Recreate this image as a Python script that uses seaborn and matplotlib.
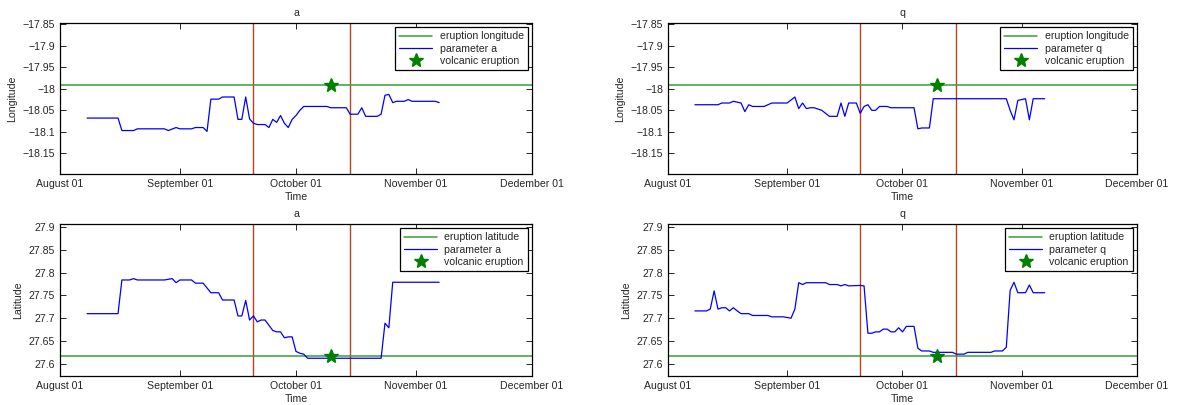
import matplotlib
matplotlib.use("Agg")
import matplotlib.pyplot as plt
import numpy as np
import pandas as pd
import seaborn as sns

# Reference markers for the El Hierro 2011 eruption
eruption_date = "2011-10-10"
eruption_lon = -17.992
eruption_lat = 27.618
window_start = "2011-09-20"
window_end = "2011-10-15"

# Parameter a, longitude estimate
a_lon_dates = ["2011-08-08", "2011-08-16", "2011-08-17", "2011-08-20", "2011-08-21", "2011-08-28",
               "2011-08-29", "2011-08-31", "2011-09-01", "2011-09-04", "2011-09-05", "2011-09-07",
               "2011-09-08", "2011-09-09", "2011-09-11", "2011-09-12", "2011-09-15", "2011-09-16",
               "2011-09-17", "2011-09-18", "2011-09-19", "2011-09-20", "2011-09-21", "2011-09-23",
               "2011-09-24", "2011-09-25", "2011-09-26", "2011-09-27", "2011-09-28", "2011-09-29",
               "2011-09-30", "2011-10-01", "2011-10-02", "2011-10-03", "2011-10-09", "2011-10-10",
               "2011-10-14", "2011-10-15", "2011-10-17", "2011-10-18", "2011-10-19", "2011-10-22",
               "2011-10-23", "2011-10-24", "2011-10-25", "2011-10-26", "2011-10-27", "2011-10-29",
               "2011-10-30", "2011-10-31", "2011-11-06", "2011-11-07"]
a_lon_values = [-18.068, -18.068, -18.097, -18.097, -18.093, -18.093,
                -18.097, -18.090, -18.093, -18.093, -18.090, -18.090,
                -18.099, -18.024, -18.024, -18.019, -18.019, -18.071,
                -18.071, -18.019, -18.070, -18.080, -18.083, -18.083,
                -18.090, -18.071, -18.078, -18.062, -18.080, -18.090,
                -18.071, -18.062, -18.050, -18.041, -18.041, -18.044,
                -18.044, -18.059, -18.059, -18.044, -18.064, -18.064,
                -18.059, -18.015, -18.013, -18.032, -18.029, -18.029,
                -18.025, -18.029, -18.029, -18.032]

# Parameter q, longitude estimate
q_lon_dates = ["2011-08-08", "2011-08-14", "2011-08-15", "2011-08-17", "2011-08-18", "2011-08-20",
               "2011-08-21", "2011-08-22", "2011-08-23", "2011-08-26", "2011-08-27", "2011-08-28",
               "2011-09-01", "2011-09-03", "2011-09-04", "2011-09-05", "2011-09-06", "2011-09-07",
               "2011-09-08", "2011-09-10", "2011-09-12", "2011-09-14", "2011-09-15", "2011-09-16",
               "2011-09-17", "2011-09-19", "2011-09-20", "2011-09-21", "2011-09-22", "2011-09-23",
               "2011-09-24", "2011-09-25", "2011-09-27", "2011-09-28", "2011-10-04", "2011-10-05",
               "2011-10-06", "2011-10-08", "2011-10-09", "2011-10-28", "2011-10-29", "2011-10-30",
               "2011-10-31", "2011-11-02", "2011-11-03", "2011-11-04", "2011-11-07"]
q_lon_values = [-18.037, -18.037, -18.033, -18.033, -18.029, -18.033,
                -18.053, -18.037, -18.041, -18.041, -18.037, -18.033,
                -18.033, -18.019, -18.046, -18.033, -18.046, -18.044,
                -18.044, -18.050, -18.064, -18.064, -18.033, -18.064,
                -18.033, -18.033, -18.057, -18.041, -18.037, -18.050,
                -18.050, -18.041, -18.041, -18.044, -18.044, -18.093,
                -18.091, -18.091, -18.023, -18.023, -18.050, -18.072,
                -18.027, -18.023, -18.072, -18.023, -18.023]

# Parameter a, latitude estimate
a_lat_dates = ["2011-08-08", "2011-08-16", "2011-08-17", "2011-08-19", "2011-08-20", "2011-08-21",
               "2011-08-28", "2011-08-30", "2011-08-31", "2011-09-01", "2011-09-04", "2011-09-05",
               "2011-09-07", "2011-09-09", "2011-09-11", "2011-09-12", "2011-09-15", "2011-09-16",
               "2011-09-17", "2011-09-18", "2011-09-19", "2011-09-20", "2011-09-21", "2011-09-22",
               "2011-09-23", "2011-09-25", "2011-09-26", "2011-09-27", "2011-09-28", "2011-09-29",
               "2011-09-30", "2011-10-01", "2011-10-02", "2011-10-03", "2011-10-04", "2011-10-23",
               "2011-10-24", "2011-10-25", "2011-10-26", "2011-11-07"]
a_lat_values = [27.710, 27.710, 27.784, 27.784, 27.787, 27.784,
                27.784, 27.787, 27.778, 27.784, 27.784, 27.777,
                27.777, 27.756, 27.756, 27.740, 27.740, 27.705,
                27.705, 27.739, 27.696, 27.705, 27.692, 27.696,
                27.696, 27.673, 27.670, 27.670, 27.657, 27.659,
                27.659, 27.627, 27.623, 27.621, 27.612, 27.612,
                27.689, 27.679, 27.779, 27.779]

# Parameter q, latitude estimate
q_lat_dates = ["2011-08-08", "2011-08-11", "2011-08-12", "2011-08-13", "2011-08-14", "2011-08-15",
               "2011-08-16", "2011-08-17", "2011-08-18", "2011-08-19", "2011-08-20", "2011-08-22",
               "2011-08-23", "2011-08-27", "2011-08-28", "2011-08-31", "2011-09-02", "2011-09-03",
               "2011-09-04", "2011-09-05", "2011-09-06", "2011-09-11", "2011-09-12", "2011-09-14",
               "2011-09-15", "2011-09-16", "2011-09-17", "2011-09-20", "2011-09-21", "2011-09-22",
               "2011-09-23", "2011-09-24", "2011-09-25", "2011-09-26", "2011-09-27", "2011-09-28",
               "2011-09-29", "2011-09-30", "2011-10-01", "2011-10-02", "2011-10-04", "2011-10-05",
               "2011-10-06", "2011-10-08", "2011-10-09", "2011-10-14", "2011-10-15", "2011-10-17",
               "2011-10-18", "2011-10-24", "2011-10-25", "2011-10-27", "2011-10-28", "2011-10-29",
               "2011-10-30", "2011-10-31", "2011-11-02", "2011-11-03", "2011-11-04", "2011-11-07"]
q_lat_values = [27.716, 27.716, 27.720, 27.760, 27.720, 27.723,
                27.723, 27.716, 27.723, 27.716, 27.710, 27.710,
                27.706, 27.706, 27.703, 27.703, 27.700, 27.720,
                27.778, 27.774, 27.778, 27.778, 27.774, 27.774,
                27.771, 27.774, 27.771, 27.772, 27.771, 27.667,
                27.667, 27.670, 27.670, 27.676, 27.676, 27.670,
                27.670, 27.679, 27.670, 27.682, 27.682, 27.634,
                27.628, 27.628, 27.625, 27.625, 27.621, 27.621,
                27.625, 27.625, 27.628, 27.628, 27.636, 27.761,
                27.779, 27.756, 27.756, 27.773, 27.756, 27.756]

# Axis ticks
tick_dates = ["2011-08-01", "2011-09-01", "2011-10-01", "2011-11-01", "2011-12-01"]
tick_labels_tl = ["August 01", "September 01", "October 01", "November 01", "Dedember 01"]
tick_labels = ["August 01", "September 01", "October 01", "November 01", "December 01"]
lon_ticks = [-18.15, -18.1, -18.05, -18.0, -17.95, -17.9, -17.85]
lon_tick_labels = ["\u221218.15", "\u221218.1", "\u221218.05", "\u221218",
                   "\u221217.95", "\u221217.9", "\u221217.85"]
lat_ticks = [27.6, 27.65, 27.7, 27.75, 27.8, 27.85, 27.9]
lat_tick_labels = ["27.6", "27.65", "27.7", "27.75", "27.8", "27.85", "27.9"]

sns.set_style("ticks")
plt.rcParams["font.family"] = ["Liberation Sans", "DejaVu Sans"]
plt.rcParams["axes.unicode_minus"] = True

BLUE = "#0000ff"
GREEN_LINE = "#3a9c3a"
GREEN_STAR = "#008000"
RED = "#b5441b"
FS = 7.6

fig = plt.figure(figsize=(11.78, 4.05), dpi=100)
W, H = 1178, 405
boxes = {
    "tl": (60, 23, 532, 174),
    "tr": (668, 23, 1137, 174),
    "bl": (60, 224, 532, 376),
    "br": (668, 224, 1137, 376),
}

panels = [
    ("tl", "a", a_lon_dates, a_lon_values, eruption_lon, "eruption longitude", "Longitude",
     lon_ticks, lon_tick_labels, (-18.198, -17.847), tick_labels_tl),
    ("tr", "q", q_lon_dates, q_lon_values, eruption_lon, "eruption longitude", "Longitude",
     lon_ticks, lon_tick_labels, (-18.198, -17.847), tick_labels),
    ("bl", "a", a_lat_dates, a_lat_values, eruption_lat, "eruption latitude", "Latitude",
     lat_ticks, lat_tick_labels, (27.573, 27.907), tick_labels),
    ("br", "q", q_lat_dates, q_lat_values, eruption_lat, "eruption latitude", "Latitude",
     lat_ticks, lat_tick_labels, (27.573, 27.907), tick_labels),
]

for key, name, dates, values, ref, ref_label, ylabel, yt, ytl, ylim, xtl in panels:
    x0, y0, x1, y1 = boxes[key]
    ax = fig.add_axes([x0 / W, 1 - y1 / H, (x1 - x0) / W, (y1 - y0) / H])
    df = pd.DataFrame({"date": pd.to_datetime(dates), "value": values})

    ax.axvline(pd.Timestamp(window_start), color=RED, lw=1.0, zorder=1)
    ax.axvline(pd.Timestamp(window_end), color=RED, lw=1.0, zorder=1)
    h_ref = ax.axhline(ref, color=GREEN_LINE, lw=1.1, zorder=2, label=ref_label)
    sns.lineplot(data=df, x="date", y="value", ax=ax, color=BLUE, lw=0.9,
                 label=f"parameter {name}", zorder=3, legend=False)
    h_par = ax.get_lines()[-1]
    h_star, = ax.plot([pd.Timestamp(eruption_date)], [ref], linestyle="none",
                      marker="*", markersize=10, color=GREEN_STAR,
                      markeredgecolor=GREEN_STAR, zorder=4, label="volcanic eruption")

    ax.set_xlim(pd.Timestamp(tick_dates[0]), pd.Timestamp(tick_dates[-1]))
    ax.set_ylim(*ylim)
    ax.set_xticks(pd.to_datetime(tick_dates))
    ax.set_xticklabels(xtl, fontsize=FS)
    ax.set_yticks(yt)
    ax.set_yticklabels(ytl, fontsize=FS)
    ax.tick_params(direction="in", top=True, right=True, length=4, width=0.7, pad=3.5)
    ax.set_title(name, fontsize=FS, pad=5)
    ax.set_xlabel("Time", fontsize=FS, labelpad=2.5)
    ax.set_ylabel(ylabel, fontsize=FS, labelpad=4)
    for sp in ax.spines.values():
        sp.set_visible(True)
        sp.set_color("black")
        sp.set_linewidth(0.9)

    leg = ax.legend(handles=[h_ref, h_par, h_star],
                    labels=[ref_label, f"parameter {name}", "volcanic eruption"],
                    loc="upper right", fontsize=FS, frameon=True, fancybox=False,
                    borderaxespad=0.4, handlelength=3.1, handletextpad=0.7,
                    labelspacing=0.2, borderpad=0.4, framealpha=1)
    leg.get_frame().set_edgecolor("black")
    leg.get_frame().set_linewidth(0.9)

fig.savefig("out.png", dpi=100)
